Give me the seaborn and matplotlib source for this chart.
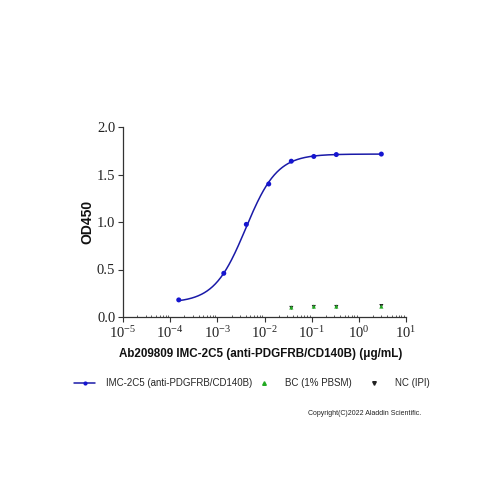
import numpy as np
import pandas as pd
import matplotlib
matplotlib.use("Agg")
import matplotlib.pyplot as plt
import seaborn as sns
from matplotlib.lines import Line2D
from matplotlib.ticker import LogLocator

# ---- data ----
conc = [1.52e-4, 1.37e-3, 4.12e-3, 1.23e-2, 3.7e-2, 0.111, 0.333, 3.0]
od = [0.18, 0.46, 0.975, 1.40, 1.64, 1.69, 1.71, 1.715]
ctrl_conc = [3.7e-2, 0.111, 0.333, 3.0]
bc_od = [0.10, 0.11, 0.11, 0.11]
nc_od = [0.095, 0.105, 0.105, 0.115]
# 4PL fit parameters estimated from the curve
fit_bottom, fit_top, fit_ec50, fit_hill = 0.15, 1.715, 4.0e-3, 1.3

y_ticks = [0.0, 0.5, 1.0, 1.5, 2.0]
x_label = "Ab209809 IMC-2C5 (anti-PDGFRB/CD140B) (μg/mL)"
y_label = "OD450"
legend_labels = ["IMC-2C5 (anti-PDGFRB/CD140B)", "BC (1% PBSM)", "NC (IPI)"]

sns.set_theme(style="ticks")
plt.rcParams["font.family"] = ["Liberation Sans", "DejaVu Sans"]
plt.rcParams["mathtext.fontset"] = "custom"
plt.rcParams["mathtext.rm"] = "Liberation Serif"
plt.rcParams["mathtext.it"] = "Liberation Serif"
plt.rcParams["mathtext.default"] = "rm"

fig = plt.figure(figsize=(5, 5), dpi=100)
ax = fig.add_axes([0.246, 0.366, 0.566, 0.380])

xf = np.logspace(np.log10(conc[0]), np.log10(conc[-1]), 300)
yf = fit_bottom + (fit_top - fit_bottom) / (1 + (fit_ec50 / xf) ** fit_hill)
fit_df = pd.DataFrame({"x": xf, "y": yf})
blue = "#1a1aa8"
dot_blue = "#1515d0"
green = "#22aa22"
black = "#222222"
sns.lineplot(data=fit_df, x="x", y="y", ax=ax, color=blue, lw=1.1)
sns.scatterplot(x=conc, y=od, ax=ax, color=dot_blue, s=13, edgecolor="none", zorder=5)
sns.scatterplot(x=ctrl_conc, y=nc_od, ax=ax, color=black, marker="v", s=9, edgecolor="none", zorder=4)
sns.scatterplot(x=ctrl_conc, y=bc_od, ax=ax, color=green, marker="^", s=9, edgecolor="none", zorder=5)

ax.set_xscale("log")
ax.set_xlim(1e-5, 10)
ax.set_ylim(0, 2.0)
ax.set_yticks(y_ticks)
ax.set_yticklabels([f"{v:.1f}" for v in y_ticks])
ax.xaxis.set_major_locator(LogLocator(base=10, numticks=10))
ax.xaxis.set_minor_locator(LogLocator(base=10, subs=np.arange(2, 10), numticks=10))
sns.despine(ax=ax)
for s in ["left", "bottom"]:
    ax.spines[s].set_linewidth(0.9)
    ax.spines[s].set_color("#333333")
ax.tick_params(axis="both", which="major", direction="out", length=3.5, width=0.8,
               colors="#333333", labelsize=10.5, pad=2)
ax.tick_params(axis="x", which="minor", direction="in", length=1.8, width=0.6, colors="#444444")
ax.tick_params(axis="y", which="minor", left=False)
for lab in ax.get_xticklabels() + ax.get_yticklabels():
    lab.set_fontfamily(["Liberation Serif", "DejaVu Serif"])
    lab.set_color("#222222")
ax.set_xlabel("")
ax.set_ylabel(y_label, fontsize=10, fontweight="bold", labelpad=2, color="#111111")
fig.text(0.521, 0.292, x_label, ha="center", va="center", fontsize=8.4, fontweight="bold", color="#111111")

handles = [
    Line2D([], [], color=blue, lw=1.1, marker="o", markersize=3, markerfacecolor=dot_blue, markeredgecolor="none"),
    Line2D([], [], ls="none", marker="^", markersize=2.6, color=green),
    Line2D([], [], ls="none", marker="v", markersize=2.6, color=black),
]
anchors = [0.148, 0.507, 0.727]
for h, lab, xa in zip(handles, legend_labels, anchors):
    fig.legend([h], [lab], loc="center left", bbox_to_anchor=(xa, 0.233), frameon=False,
               fontsize=7, handlelength=2.16, handletextpad=1.13, borderaxespad=0, borderpad=0)

fig.text(0.617, 0.173, "Copyright(C)2022 Aladdin Scientific.", fontsize=5, color="#222222", va="center")

fig.savefig("out.png", dpi=100, facecolor="white")
